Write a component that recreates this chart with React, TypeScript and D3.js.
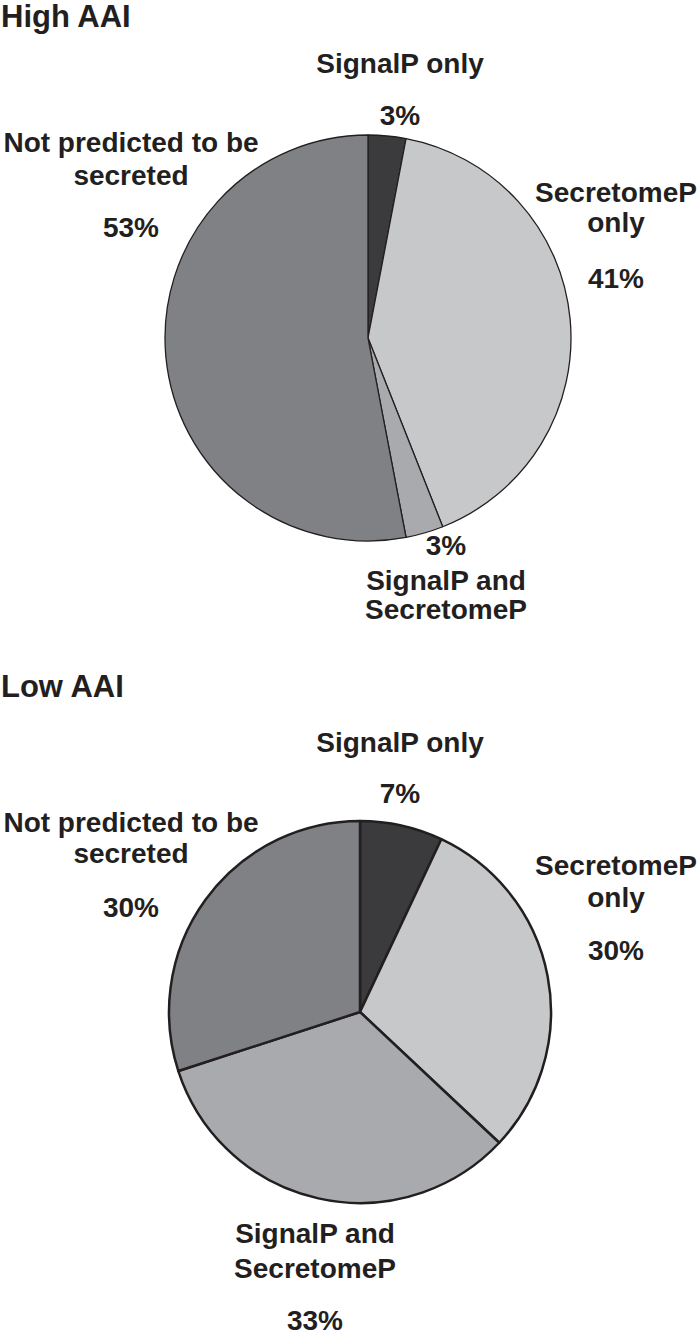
import React from "react";
import * as d3 from "d3";

const categories = ["SignalP only", "SecretomeP only", "SignalP and SecretomeP", "Not predicted to be secreted"];
const highValues = [3, 41, 3, 53];
const lowValues = [7, 30, 33, 30];
const sliceColors = ["#3b3b3d", "#c7c8ca", "#a9aaad", "#808184"];

type Label = { lines: string[]; x: number; y: number[] };

const highLabels: Label[] = [
  { lines: ["SignalP only", "3%"], x: 400, y: [73, 125] },
  { lines: ["SecretomeP", "only", "41%"], x: 616, y: [202, 232, 288] },
  { lines: ["3%", "SignalP and", "SecretomeP"], x: 446, y: [555, 590, 619] },
  { lines: ["Not predicted to be", "secreted", "53%"], x: 131, y: [152, 185, 237] },
];
const lowLabels: Label[] = [
  { lines: ["SignalP only", "7%"], x: 400, y: [752, 803] },
  { lines: ["SecretomeP", "only", "30%"], x: 616, y: [875, 907, 960] },
  { lines: ["SignalP and", "SecretomeP", "33%"], x: 315, y: [1243, 1278, 1330] },
  { lines: ["Not predicted to be", "secreted", "30%"], x: 131, y: [832, 863, 917] },
];

const textColor = "#231f20";
const font = "'Liberation Sans', Arial, sans-serif";

function Pie({ values, cx, cy, r, sw }: { values: number[]; cx: number; cy: number; r: number; sw: number }) {
  const pie = d3.pie<number>().sort(null).value((d) => d);
  const arc = d3.arc<d3.PieArcDatum<number>>().innerRadius(0).outerRadius(r);
  const arcs = pie(values);
  return (
    <g transform={`translate(${cx},${cy})`}>
      {arcs.map((a, i) => (
        <path key={i} d={arc(a) || ""} fill={sliceColors[i]} stroke={textColor} strokeWidth={sw} strokeLinejoin="round" />
      ))}
    </g>
  );
}

function Labels({ labels }: { labels: Label[] }) {
  return (
    <g fontFamily={font} fontWeight="bold" fontSize={28} fill={textColor} textAnchor="middle">
      {labels.map((l, i) =>
        l.lines.map((t, j) => (
          <text key={`${i}-${j}`} x={l.x} y={l.y[j]}>
            {t}
          </text>
        ))
      )}
    </g>
  );
}

export default function App() {
  return (
    <svg width={700} height={1342} style={{ position: "absolute", left: 0, top: 0, background: "#fff" }}>
      <rect width={700} height={1342} fill="#fff" />
      <text x={1} y={27} fontFamily={font} fontWeight="bold" fontSize={31} fill={textColor}>
        High AAI
      </text>
      <text x={1} y={697} fontFamily={font} fontWeight="bold" fontSize={31} fill={textColor}>
        Low AAI
      </text>
      <Pie values={highValues} cx={368} cy={338} r={203} sw={1.3} />
      <Pie values={lowValues} cx={360} cy={1012} r={191} sw={2.5} />
      <Labels labels={highLabels} />
      <Labels labels={lowLabels} />
    </svg>
  );
}
